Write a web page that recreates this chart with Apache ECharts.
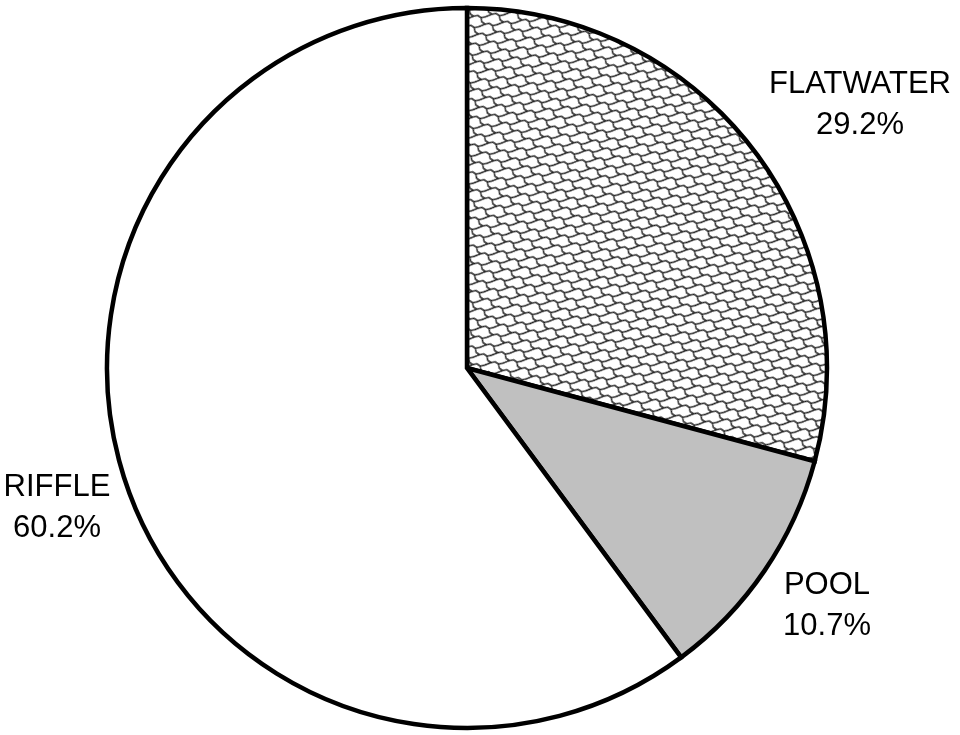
<!DOCTYPE html>
<html>
<head>
<meta charset="utf-8">
<style>
  html, body { margin: 0; padding: 0; background: #ffffff; }
  #chart { width: 960px; height: 735px; }
</style>
<script src="https://cdn.jsdelivr.net/npm/echarts@6/dist/echarts.min.js"></script>
</head>
<body>
<div id="chart"></div>
<script>
// Habitat composition by unit type
const categories = ['FLATWATER', 'POOL', 'RIFFLE'];
const shares = [29.2, 10.7, 60.2];

// Scale-like hatch tile for the flatwater slice
function makeHatch() {
  const w = 14, h = 12;
  const c = document.createElement('canvas');
  c.width = w; c.height = h;
  const g = c.getContext('2d');
  g.fillStyle = '#ffffff';
  g.fillRect(0, 0, w, h);
  g.strokeStyle = '#1a1a1a';
  g.lineWidth = 1.4;
  g.lineJoin = 'round';
  // draw with y mirrored so the rows fall to the right once rotated
  g.translate(0, h);
  g.scale(1, -1);
  // one scale: a "<" vertex whose upper arm runs right and then turns diagonally
  const scale = (ox, oy) => {
    g.beginPath();
    g.moveTo(ox + 1, oy + 5);
    g.lineTo(ox + 4, oy + 2);
    g.lineTo(ox + 8, oy + 2);
    g.lineTo(ox + 11, oy + 5);
    g.lineTo(ox + 15, oy + 5);
    g.moveTo(ox + 1, oy + 5);
    g.lineTo(ox + 4, oy + 8);
    g.lineTo(ox + 8, oy + 14);
    g.stroke();
  };
  for (const dx of [-w, 0, w]) {
    for (const dy of [-h, 0, h]) scale(dx, dy);
  }
  return c;
}

const fills = [
  { image: makeHatch(), repeat: 'repeat', rotation: 0.6 },
  '#c0c0c0',
  '#ffffff'
];

// label anchor points for each slice
const labelSpots = [
  { x: 860, y: 105 },
  { x: 827, y: 606 },
  { x: 57, y: 508 }
];

const chart = echarts.init(document.getElementById('chart'), null, { renderer: 'canvas' });
chart.setOption({
  backgroundColor: '#ffffff',
  animation: false,
  series: [{
    type: 'pie',
    center: [467, 368],
    radius: [0, 360],
    startAngle: 90,
    clockwise: true,
    silent: true,
    data: categories.map((name, i) => ({
      name: name,
      value: shares[i],
      itemStyle: { color: fills[i] }
    })),
    itemStyle: { borderColor: '#000000', borderWidth: 4.5, borderJoin: 'miter' },
    label: {
      show: true,
      position: 'outside',
      formatter: p => p.name + '\n' + p.value.toFixed(1) + '%',
      fontFamily: 'Liberation Sans, Arial, sans-serif',
      fontSize: 31,
      lineHeight: 41,
      color: '#000000',
      align: 'center',
      overflow: 'none',
      width: 300
    },
    labelLine: { show: false },
    labelLayout: p => ({
      x: labelSpots[p.dataIndex].x,
      y: labelSpots[p.dataIndex].y,
      align: 'center',
      verticalAlign: 'middle',
      hideOverlap: false
    })
  }]
});
</script>
</body>
</html>
